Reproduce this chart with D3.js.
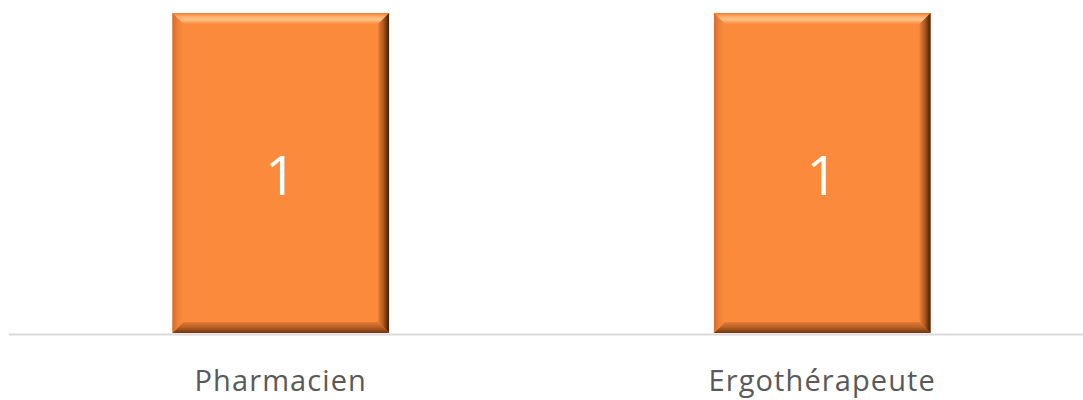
<!DOCTYPE html>
<html>
<head>
<meta charset="utf-8">
<script src="https://cdn.jsdelivr.net/npm/d3@7"></script>
<style>
  body { margin: 0; background: #fff; }
  svg { display: block; }
</style>
</head>
<body>
<svg id="chart" width="1083" height="400"></svg>
<script>
// chart data
var categories = ['Pharmacien', 'Ergothérapeute'];
var values = [1, 1];

var width = 1083, height = 400;
var margin = { top: 13, right: -10, bottom: 66, left: 10 };
var svg = d3.select('#chart');
var defs = svg.append('defs');

var x = d3.scaleBand()
  .domain(categories)
  .range([margin.left, width - margin.right])
  .paddingInner(0.6)
  .paddingOuter(0.3);

var y = d3.scaleLinear()
  .domain([0, 1])
  .range([height - margin.bottom - 1, margin.top]);

// bevel gradients
function grad(id, x1, y1, x2, y2, stops) {
  var g = defs.append('linearGradient').attr('id', id)
    .attr('x1', x1).attr('y1', y1).attr('x2', x2).attr('y2', y2);
  stops.forEach(function(s){
    g.append('stop').attr('offset', s[0]).attr('stop-color', s[1]);
  });
}
grad('bTop', 0, 0, 0, 1, [[0, '#f47a2c'], [0.35, '#fdb070'], [0.6, '#ffc48a'], [1, '#fb8a3c']]);
grad('bBot', 0, 0, 0, 1, [[0, '#e47a34'], [0.5, '#b75e25'], [1, '#6e3412']]);
grad('bLeft', 0, 0, 1, 0, [[0, '#d66a28'], [0.5, '#f08339'], [1, '#fb8a3c']]);
grad('bRight', 0, 0, 1, 0, [[0, '#e97f38'], [0.5, '#a9561f'], [1, '#3f1e08']]);

var bev = 11;
var bars = svg.selectAll('g.bar')
  .data(categories.map(function(c, i){ return { cat: c, val: values[i] }; }))
  .enter().append('g').attr('class', 'bar');

bars.each(function(d){
  var g = d3.select(this);
  var x0 = x(d.cat), x1 = x0 + x.bandwidth();
  var y0 = y(d.val), y1 = y(0);
  g.append('rect').attr('x', x0).attr('y', y0)
    .attr('width', x1 - x0).attr('height', y1 - y0).attr('fill', '#fb8a3c');
  var poly = function(pts, fill){
    g.append('polygon').attr('points', pts.map(function(p){ return p.join(','); }).join(' '))
      .attr('fill', fill);
  };
  poly([[x0, y0], [x1, y0], [x1 - bev, y0 + bev], [x0 + bev, y0 + bev]], 'url(#bTop)');
  poly([[x0, y1], [x1, y1], [x1 - bev, y1 - bev], [x0 + bev, y1 - bev]], 'url(#bBot)');
  poly([[x0, y0], [x0 + bev, y0 + bev], [x0 + bev, y1 - bev], [x0, y1]], 'url(#bLeft)');
  poly([[x1, y0], [x1 - bev, y0 + bev], [x1 - bev, y1 - bev], [x1, y1]], 'url(#bRight)');

  // value label
  g.append('text')
    .attr('x', (x0 + x1) / 2)
    .attr('y', 195)
    .attr('text-anchor', 'middle')
    .attr('fill', '#ffffff')
    .attr('font-family', 'Open Sans, Liberation Sans, sans-serif')
    .attr('font-size', 55)
    .text(d.val);
});

// baseline
svg.append('line')
  .attr('x1', 9).attr('x2', width)
  .attr('y1', y(0) + 1.5).attr('y2', y(0) + 1.5)
  .attr('stroke', '#d9d9d9').attr('stroke-width', 2);

// category axis
var axis = svg.append('g')
  .attr('transform', 'translate(0,' + (y(0) + 2) + ')')
  .call(d3.axisBottom(x).tickSize(0).tickPadding(35));
axis.select('.domain').remove();
axis.selectAll('text')
  .attr('fill', '#595959')
  .attr('font-family', 'Open Sans, Liberation Sans, sans-serif')
  .attr('font-size', 29)
  .attr('letter-spacing', 1.1);
</script>
</body>
</html>
